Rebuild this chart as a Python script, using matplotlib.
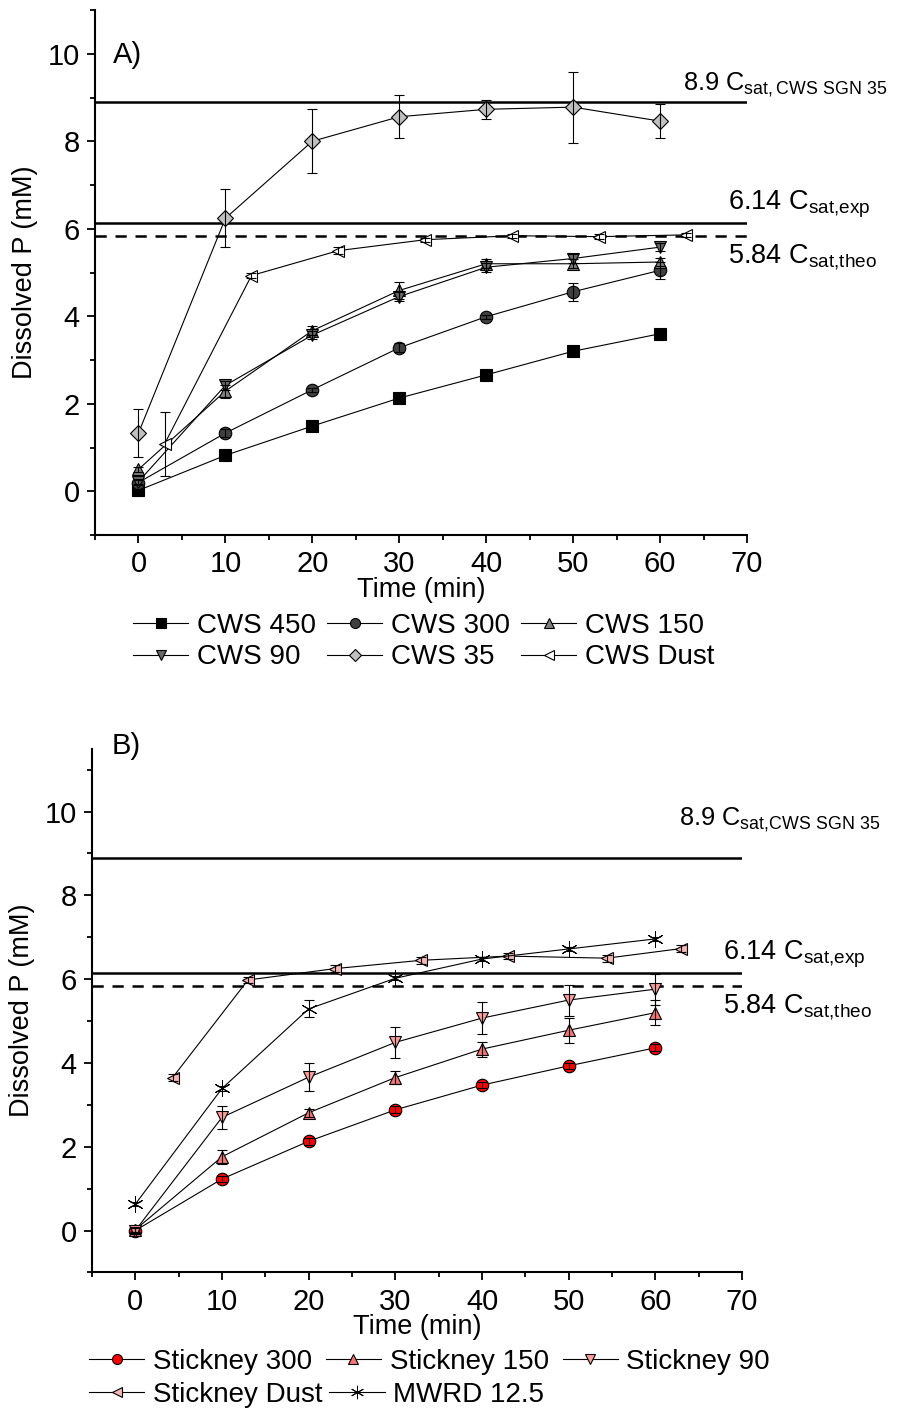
import matplotlib
matplotlib.use("Agg")
import matplotlib.pyplot as plt
from matplotlib.ticker import MultipleLocator

plt.rcParams['font.family'] = ['Liberation Sans', 'DejaVu Sans']
plt.rcParams['mathtext.default'] = 'regular'

# ---------------- data ----------------
time = [0, 10, 20, 30, 40, 50, 60]
time_dust_a = [3, 13, 23, 33, 43, 53, 63]
time_dust_b = [4.3, 13, 23, 33, 43, 54.4, 63]

# Panel A: CWS size fractions
cws450 = [0.02, 0.82, 1.49, 2.13, 2.66, 3.20, 3.60]
cws450_err = [0.04, 0.05, 0.05, 0.05, 0.05, 0.05, 0.05]
cws300 = [0.20, 1.33, 2.32, 3.28, 3.99, 4.56, 5.05]
cws300_err = [0.05, 0.10, 0.05, 0.10, 0.05, 0.20, 0.20]
cws150 = [0.50, 2.29, 3.67, 4.59, 5.20, 5.20, 5.24]
cws150_err = [0.05, 0.15, 0.10, 0.20, 0.10, 0.10, 0.10]
cws90 = [0.22, 2.42, 3.57, 4.45, 5.12, 5.32, 5.58]
cws90_err = [0.05, 0.10, 0.10, 0.10, 0.10, 0.10, 0.10]
cws35 = [1.33, 6.24, 8.00, 8.56, 8.73, 8.78, 8.46]
cws35_err = [0.55, 0.66, 0.73, 0.49, 0.22, 0.81, 0.38]
cws_dust = [1.08, 4.93, 5.50, 5.75, 5.84, 5.82, 5.86]
cws_dust_err = [0.73, 0.05, 0.08, 0.05, 0.05, 0.05, 0.05]

# Panel B: Stickney and MWRD materials
stk300 = [0.00, 1.23, 2.13, 2.88, 3.47, 3.93, 4.36]
stk300_err = [0.08, 0.08, 0.08, 0.08, 0.08, 0.08, 0.08]
stk150 = [0.02, 1.76, 2.81, 3.65, 4.33, 4.78, 5.20]
stk150_err = [0.05, 0.17, 0.10, 0.15, 0.18, 0.30, 0.30]
stk90 = [0.00, 2.70, 3.66, 4.49, 5.07, 5.50, 5.76]
stk90_err = [0.05, 0.28, 0.33, 0.37, 0.38, 0.37, 0.37]
stk_dust = [3.65, 5.98, 6.25, 6.45, 6.55, 6.50, 6.73]
stk_dust_err = [0.08, 0.08, 0.08, 0.08, 0.08, 0.08, 0.08]
mwrd = [0.63, 3.39, 5.29, 6.02, 6.48, 6.72, 6.96]
mwrd_err = [0.05, 0.05, 0.20, 0.05, 0.05, 0.05, 0.05]

# saturation reference levels
csat_sgn35 = 8.9
csat_exp = 6.14
csat_theo = 5.84

# ---------------- figure ----------------
W, H = 901, 1414
fig = plt.figure(figsize=(W / 100, H / 100), dpi=100)
axA = fig.add_axes([95 / W, 1 - 535 / H, 652 / W, 525 / H])
axB = fig.add_axes([92 / W, 1 - 1272.4 / H, 650 / W, 523.7 / H])

TICK_FS = 21
LABEL_FS = 19.5
LEG_FS = 20
NOTE_FS = 19.5
SGN_FS = 18.3


def style_axis(ax, ymax):
    ax.set_xlim(-5, 70)
    ax.set_ylim(-1, ymax)
    for s in ('top', 'right'):
        ax.spines[s].set_visible(False)
    for s in ('left', 'bottom'):
        ax.spines[s].set_linewidth(1.5)
    ax.xaxis.set_major_locator(MultipleLocator(10))
    ax.xaxis.set_minor_locator(MultipleLocator(5))
    ax.yaxis.set_major_locator(MultipleLocator(2))
    ax.yaxis.set_minor_locator(MultipleLocator(1))
    ax.set_xticks(range(0, 71, 10))
    ax.set_yticks(range(0, 11, 2))
    ax.tick_params(which='major', direction='out', length=6, width=1.3,
                   labelsize=TICK_FS, pad=5)
    ax.tick_params(which='minor', direction='out', length=3.5, width=1.3)
    ax.set_xlabel('Time (min)', fontsize=LABEL_FS)
    ax.set_ylabel('Dissolved P (mM)', fontsize=LABEL_FS)
    ax.xaxis.set_label_coords(0.5, -0.080)
    ax.yaxis.set_label_coords(-0.088, 0.5)


def series(ax, x, y, err, marker, face, label, ms=9.0, edge='black', mew=0.8):
    line, = ax.plot(x, y, color='black', lw=0.8, marker=marker, ms=ms,
                    mfc=face, mec=edge, mew=mew, label=label, zorder=3)
    ax.errorbar(x, y, yerr=err, fmt='none', ecolor='black', elinewidth=0.8,
                capsize=3.6, capthick=0.8, zorder=4)
    return line


def sat_lines(ax):
    ax.axhline(csat_sgn35, color='black', lw=1.8, zorder=2)
    ax.axhline(csat_exp, color='black', lw=1.8, zorder=2)
    ax.axhline(csat_theo, color='black', lw=1.8, ls=(0, (4.5, 3.5)), zorder=2)


ASTER = (6, 2, 0)

# ---------- Panel A ----------
style_axis(axA, 11)
sat_lines(axA)
hA = {}
hA['450'] = series(axA, time, cws450, cws450_err, 's', 'black', 'CWS 450', ms=8.5)
hA['300'] = series(axA, time, cws300, cws300_err, 'o', '#404040', 'CWS 300')
hA['150'] = series(axA, time, cws150, cws150_err, '^', '#808080', 'CWS 150')
hA['90'] = series(axA, time, cws90, cws90_err, 'v', '#686868', 'CWS 90')
hA['35'] = series(axA, time, cws35, cws35_err, 'D', '#c0c0c0', 'CWS 35', ms=8)
hA['dust'] = series(axA, time_dust_a, cws_dust, cws_dust_err, '<', 'white', 'CWS Dust')

axA.text(-2.9, 9.98, 'A)', fontsize=21, ha='left', va='center')
axA.text(62.6, 9.3, r'8.9 C$_{sat{,}\,CWS\ SGN\ 35}$', fontsize=SGN_FS,
         ha='left', va='center', clip_on=False)
axA.text(67.8, 6.55, r'6.14 C$_{sat{,}exp}$', fontsize=NOTE_FS,
         ha='left', va='center', clip_on=False)
axA.text(67.8, 5.35, r'5.84 C$_{sat{,}theo}$', fontsize=NOTE_FS,
         ha='left', va='center', clip_on=False)

orderA = ['450', '90', '300', '35', '150', 'dust']
axA.legend([hA[k] for k in orderA], [hA[k].get_label() for k in orderA],
           ncol=3, loc='upper left', bbox_to_anchor=(0.058, -0.148),
           frameon=False, fontsize=LEG_FS, borderpad=0, borderaxespad=0,
           handlelength=2.0, handletextpad=0.3, columnspacing=0.4,
           labelspacing=0.2, markerscale=0.8)

# ---------- Panel B ----------
style_axis(axB, 11.5)
sat_lines(axB)
h300 = series(axB, time, stk300, stk300_err, 'o', '#ff0000', 'Stickney 300')
h150 = series(axB, time, stk150, stk150_err, '^', '#f87474', 'Stickney 150')
h90 = series(axB, time, stk90, stk90_err, 'v', '#ff9c9c', 'Stickney 90')
hdust = series(axB, time_dust_b, stk_dust, stk_dust_err, '<', '#f6b6b6', 'Stickney Dust')
hmwrd = series(axB, time, mwrd, mwrd_err, ASTER, 'black', 'MWRD 12.5', ms=12, mew=0.7)

axB.text(-2.7, 11.56, 'B)', fontsize=21, ha='left', va='center', clip_on=False)
axB.text(62.7, 9.8, r'8.9 C$_{sat{,}CWS\ SGN\ 35}$', fontsize=SGN_FS,
         ha='left', va='center', clip_on=False)
axB.text(67.8, 6.6, r'6.14 C$_{sat{,}exp}$', fontsize=NOTE_FS,
         ha='left', va='center', clip_on=False)
axB.text(67.8, 5.33, r'5.84 C$_{sat{,}theo}$', fontsize=NOTE_FS,
         ha='left', va='center', clip_on=False)

legB1 = axB.legend([h300, h150, h90], [h.get_label() for h in (h300, h150, h90)],
                   ncol=3, loc='upper left', bbox_to_anchor=(-0.005, -0.146),
                   frameon=False, fontsize=LEG_FS, borderpad=0, borderaxespad=0,
                   handlelength=2.0, handletextpad=0.3, columnspacing=0.5,
                   markerscale=0.8)
axB.add_artist(legB1)
axB.legend([hdust, hmwrd], [h.get_label() for h in (hdust, hmwrd)],
           ncol=2, loc='upper left', bbox_to_anchor=(-0.005, -0.209),
           frameon=False, fontsize=LEG_FS, borderpad=0, borderaxespad=0,
           handlelength=2.0, handletextpad=0.3, columnspacing=0.25,
           markerscale=0.8)

fig.savefig('out.png', dpi=100)
